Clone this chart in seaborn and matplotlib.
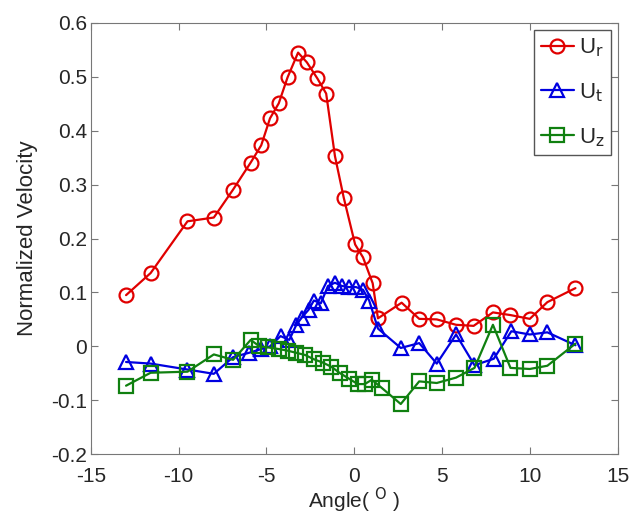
import matplotlib
matplotlib.use("Agg")
import matplotlib.pyplot as plt
import seaborn as sns

# Radial velocity U_r
angle_r = [-13, -11.6, -9.5, -8.0, -6.9, -5.9, -5.3, -4.8, -4.3, -3.8, -3.2, -2.7, -2.1, -1.6, -1.1,
           -0.6, 0.05, 0.5, 1.05, 1.35, 2.7, 3.7, 4.7, 5.8, 6.8, 7.9, 8.9, 10.0, 11.0, 12.6]
u_r = [0.095, 0.136, 0.232, 0.239, 0.291, 0.341, 0.373, 0.423, 0.451, 0.499, 0.545, 0.527, 0.497, 0.469, 0.353,
       0.276, 0.189, 0.165, 0.117, 0.052, 0.081, 0.051, 0.05, 0.04, 0.038, 0.063, 0.058, 0.051, 0.082, 0.108]

# Tangential velocity U_t
angle_t = [-13, -11.6, -9.5, -8.0, -6.9, -6.0, -5.3, -4.8, -4.2, -3.7, -3.3, -3.0, -2.6, -2.3, -1.9, -1.5,
           -1.1, -0.7, -0.3, 0.1, 0.5, 0.85, 1.35, 2.65, 3.7, 4.7, 5.8, 6.85, 7.95, 8.95, 10.0, 11.0, 12.6]
u_t = [-0.029, -0.032, -0.043, -0.051, -0.02, -0.012, -0.005, 0.0, 0.019, 0.012, 0.04, 0.053, 0.068, 0.085, 0.08, 0.112,
       0.118, 0.112, 0.11, 0.11, 0.105, 0.085, 0.033, -0.003, 0.006, -0.032, 0.022, -0.035, -0.023, 0.028, 0.022, 0.026, 0.002]

# Axial velocity U_z
angle_z = [-13, -11.6, -9.5, -8.0, -6.9, -5.9, -5.4, -4.9, -4.3, -3.8, -3.3, -2.8, -2.3, -1.8, -1.3, -0.8,
           -0.3, 0.2, 0.6, 1.0, 1.6, 2.65, 3.7, 4.7, 5.8, 6.85, 7.9, 8.9, 10.0, 11.0, 12.6]
u_z = [-0.073, -0.049, -0.047, -0.015, -0.025, 0.012, 0.0, -0.002, -0.005, -0.008, -0.012, -0.016, -0.024, -0.03, -0.038, -0.05,
       -0.06, -0.07, -0.07, -0.062, -0.078, -0.107, -0.065, -0.068, -0.058, -0.04, 0.04, -0.04, -0.042, -0.036, 0.005]

sns.set_style("ticks")
plt.rcParams['font.family'] = ['Liberation Sans', 'DejaVu Sans']
plt.rcParams['axes.unicode_minus'] = False
plt.rcParams['xtick.direction'] = 'in'
plt.rcParams['ytick.direction'] = 'in'

fig = plt.figure(figsize=(6.36, 5.22), dpi=100)
ax = fig.add_axes([0.143, 0.13, 0.828, 0.826])

style = dict(linewidth=1.6, markersize=10, markerfacecolor='none', markeredgewidth=1.6)
sns.lineplot(x=angle_r, y=u_r, ax=ax, color='#e00000', marker='o', markeredgecolor='#e00000',
             label=r'U$_\mathrm{r}$', sort=False, **style)
sns.lineplot(x=angle_t, y=u_t, ax=ax, color='#0000e0', marker='^', markeredgecolor='#0000e0',
             label=r'U$_\mathrm{t}$', sort=False, **style)
sns.lineplot(x=angle_z, y=u_z, ax=ax, color='#108010', marker='s', markeredgecolor='#108010',
             label=r'U$_\mathrm{z}$', sort=False, **style)

ax.set_xlim(-15, 15)
ax.set_ylim(-0.2, 0.6)
ax.set_xticks(range(-15, 16, 5))
ax.set_yticks([-0.2, -0.1, 0, 0.1, 0.2, 0.3, 0.4, 0.5, 0.6])
ax.set_yticklabels(['-0.2', '-0.1', '0', '0.1', '0.2', '0.3', '0.4', '0.5', '0.6'])
ax.tick_params(labelsize=15, top=True, right=True, length=5, color='#777777', pad=3)
ax.tick_params(axis='x', pad=9)
for s in ax.spines.values():
    s.set_visible(True)
    s.set_color('#777777')

ax.set_xlabel(r'Angle( $^\mathrm{O}$ )', fontsize=15, labelpad=0)
ax.set_ylabel('Normalized Velocity', fontsize=16, labelpad=9)

leg = ax.legend(loc='upper right', fontsize=16, handlelength=1.5, handletextpad=0.2,
                borderaxespad=0.3, labelspacing=1.0, fancybox=False, framealpha=1,
                borderpad=0.3)
leg.get_frame().set_edgecolor('#555555')

fig.savefig('out.png', dpi=100)
